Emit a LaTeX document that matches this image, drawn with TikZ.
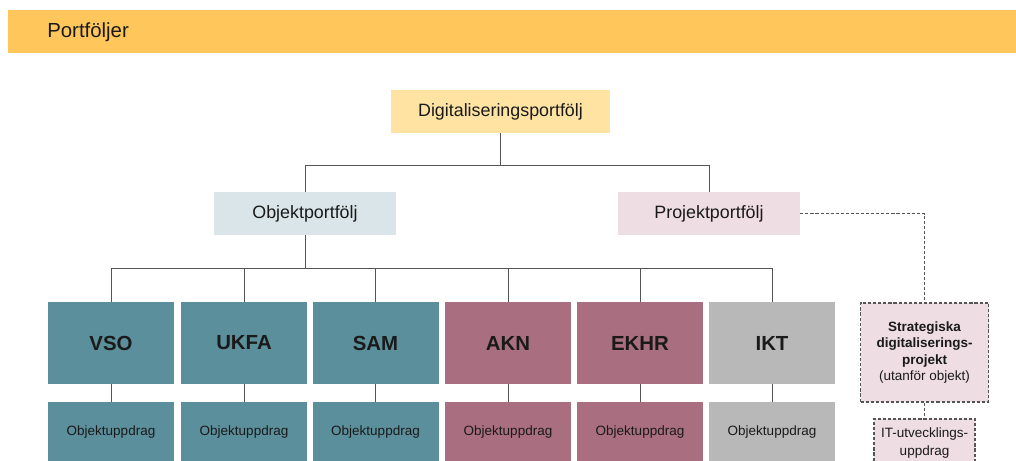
\documentclass[tikz,border=0pt]{standalone}
\usepackage{fontspec}
\setmainfont{Liberation Sans}
\usetikzlibrary{positioning}

\definecolor{banner}{HTML}{FFC65C}
\definecolor{topfill}{HTML}{FFE3A3}
\definecolor{objfill}{HTML}{DAE5EA}
\definecolor{projfill}{HTML}{EEDDE3}
\definecolor{teal}{HTML}{5B8F9B}
\definecolor{mauve}{HTML}{A96E80}
\definecolor{grayfill}{HTML}{B8B8B8}
\definecolor{linecol}{HTML}{555555}
\definecolor{txt}{HTML}{1A1A1A}

\newcommand{\px}{0.025cm}

\begin{document}
\begin{tikzpicture}[x=0.025cm, y=-0.025cm]
    \tikzstyle{every node} = [shape=rectangle, inner sep=0pt, text=txt, align=center]
    \tikzstyle{head} = [minimum width=182*\px, minimum height=43*\px, font=\fontsize{12.7}{15}\selectfont]
    \tikzstyle{unit} = [minimum width=126*\px, minimum height=82*\px, font=\bfseries\fontsize{14.5}{17}\selectfont]
    \tikzstyle{task} = [minimum width=126*\px, minimum height=60*\px, font=\fontsize{9.6}{11}\selectfont]
    \tikzstyle{link} = [draw=linecol, line width=0.6pt]
    \tikzstyle{dlink} = [draw=linecol, line width=0.75pt, dash pattern=on 2.2pt off 1.4pt]
    \useasboundingbox (0, 0) rectangle (1016, 460);
    \clip (0, 0) rectangle (1016, 460);
    % banner
    \fill [banner] (8, 10) rectangle (1016, 53);
    \node [anchor=west, font=\fontsize{14.5}{17}\selectfont] (title) at (47, 32) {Portföljer};
    % top level
    \node [head, fill=topfill, minimum width=219*\px] (dig) at (500.5, 111.5) {Digitaliseringsportfölj};
    \node [head, fill=objfill] (obj) at (305, 213.5) {Objektportfölj};
    \node [head, fill=projfill] (proj) at (709, 213.5) {Projektportfölj};
    \coordinate (j1) at (500.5, 165);
    \draw [link] (dig) -- (j1);
    \draw [link] (j1) -| (obj);
    \draw [link] (j1) -| (proj);
    % objects
    \coordinate (j2) at (305, 268.5);
    \draw [link] (obj) -- (j2);
    \foreach \name/\x/\col in {VSO/111/teal, UKFA/244/teal, SAM/375.5/teal, AKN/508/mauve, EKHR/640/mauve, IKT/772/grayfill} {
        \node [unit, fill=\col] (\name) at (\x, 343) {\name};
        \node [task, fill=\col] (\name-t) at (\x, 432) {Objektuppdrag};
        \draw [link] (j2) -| (\name);
        \draw [link] (\name) -- (\name-t);
    }
    % strategic projects
    \node [dlink, fill=projfill, minimum width=128*\px, minimum height=99*\px, font=\fontsize{9.6}{11.6}\selectfont] (strat) at (924.5, 352.5)
        {\textbf{Strategiska}\\\textbf{digitaliserings-}\\\textbf{projekt}\\(utanför objekt)};
    \node [dlink, fill=projfill, minimum width=101*\px, minimum height=48*\px, font=\fontsize{9.6}{12.3}\selectfont] (it) at (924.5, 443)
        {IT-utvecklings-\\uppdrag};
    \draw [dlink] (proj) -| (strat);
    \draw [dlink] (strat) -- (it);
\end{tikzpicture}
\end{document}
